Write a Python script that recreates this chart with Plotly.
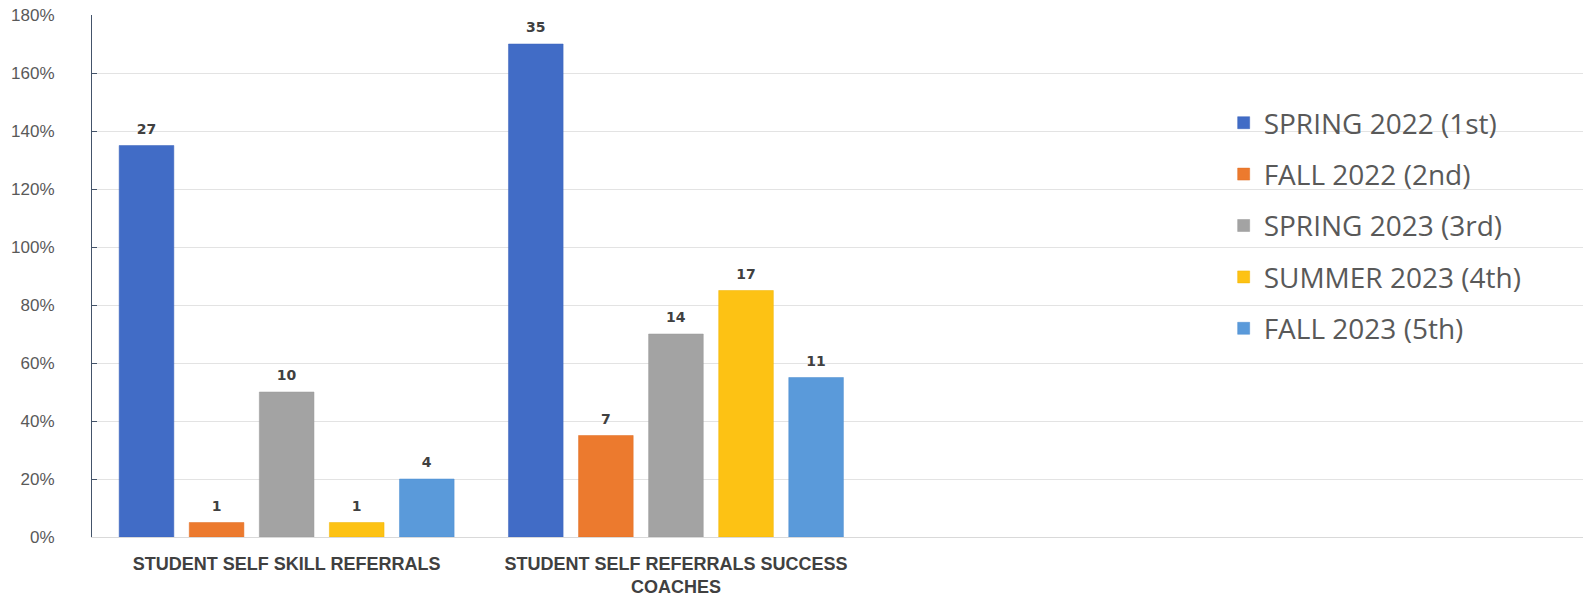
import plotly.graph_objects as go

categories = ["STUDENT SELF SKILL REFERRALS", "STUDENT SELF REFERRALS SUCCESS<br>COACHES"]
series_names = ["SPRING 2022 (1st)", "FALL 2022 (2nd)", "SPRING 2023 (3rd)", "SUMMER 2023 (4th)", "FALL 2023 (5th)"]
# bar heights (percent) as drawn
spring_2022_pct = [135, 170]
fall_2022_pct = [5, 35]
spring_2023_pct = [50, 70]
summer_2023_pct = [5, 85]
fall_2023_pct = [20, 55]
# data labels (counts)
spring_2022_cnt = [27, 35]
fall_2022_cnt = [1, 7]
spring_2023_cnt = [10, 14]
summer_2023_cnt = [1, 17]
fall_2023_cnt = [4, 11]
y_ticks = [0, 20, 40, 60, 80, 100, 120, 140, 160, 180]
y_tick_labels = [f"{v}%" for v in y_ticks]

series_pct = [spring_2022_pct, fall_2022_pct, spring_2023_pct, summer_2023_pct, fall_2023_pct]
series_cnt = [spring_2022_cnt, fall_2022_cnt, spring_2023_cnt, summer_2023_cnt, fall_2023_cnt]
colors = ["#416CC6", "#EC7A2E", "#A3A3A3", "#FDC214", "#5A9ADA"]
line_colors = ["#3A63BA", "#E06F24", "#999999", "#F0B400", "#4F8FD0"]

fig = go.Figure()
for i, name in enumerate(series_names):
    fig.add_trace(go.Bar(
        x=categories, y=series_pct[i], name=name,
        text=series_cnt[i],
        texttemplate="<span style='font-size:14px'><b>%{text}</b></span><br> ",
        textposition="outside", cliponaxis=False,
        textfont=dict(family="DejaVu Sans", size=6, color="#404040"),
        marker=dict(color=colors[i], line=dict(color=line_colors[i], width=0.5)),
        legendgroup=name,
    ))

fig.update_layout(
    width=1583, height=600,
    margin=dict(l=92, r=0, t=15, b=63),
    paper_bgcolor="white", plot_bgcolor="white",
    barmode="group", bargap=0.10, bargroupgap=0.22,
    font=dict(family="Liberation Sans", color="#595959"),
    legend=dict(
        x=0.759, y=0.841, xanchor="left", yanchor="top",
        font=dict(family="Open Sans", size=28, color="#595959"),
        tracegroupgap=12, traceorder="grouped",
        bgcolor="rgba(0,0,0,0)",
    ),
    xaxis=dict(
        type="category", range=[-0.5, 3.33],
        showline=True, linecolor="#D9D9D9", linewidth=1,
        tickfont=dict(family="Liberation Sans", size=18, color="#404040"),
        ticks="", showgrid=False, ticklabelstandoff=10,
        tickvals=categories, ticktext=["<b>" + c + "</b>" for c in categories],
    ),
    yaxis=dict(
        range=[0, 180], tickvals=y_ticks, ticktext=y_tick_labels,
        showline=True, linecolor="#44546A", linewidth=1,
        ticks="inside", ticklen=5, tickcolor="#44546A",
        gridcolor="#E3E3E3", gridwidth=1, zeroline=False,
        ticklabelstandoff=33,
        tickfont=dict(family="Liberation Sans", size=17, color="#595959"),
    ),
)

fig.write_html(
    "out.html",
    config={"displayModeBar": False},
    post_script="document.body.style.margin='0';document.body.style.overflow='hidden';",
)
